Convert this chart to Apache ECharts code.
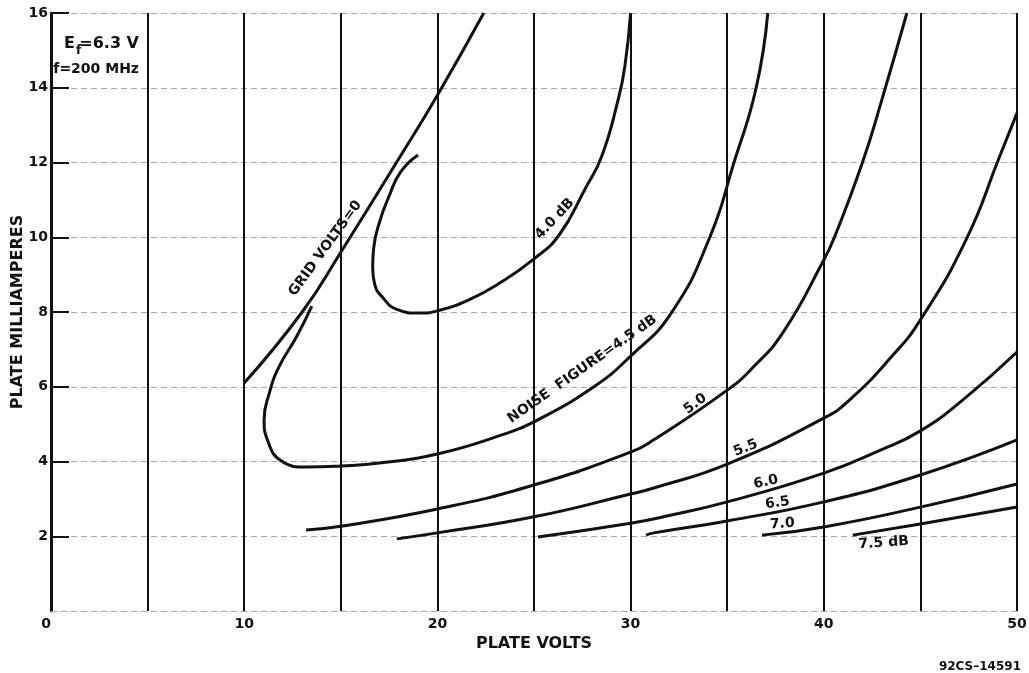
<!DOCTYPE html>
<html>
<head>
<meta charset="utf-8">
<title>Plate milliamperes vs plate volts</title>
<script src="https://cdn.jsdelivr.net/npm/echarts@6.0.0/dist/echarts.min.js"></script>
<style>
  html, body { margin: 0; padding: 0; background: #fff; }
  #chart { width: 1029px; height: 673px; }
</style>
</head>
<body>
<div id="chart"></div>
<script>
  // values: x = plate volts, y = plate milliamperes
  const gridZeroX = [10, 13, 15, 18, 20, 22.4]
  const gridZeroY = [6.1, 8.0, 9.6, 12.1, 13.8, 16]

  // 4.0 dB is a loop, so points follow the drawn path
  const nf40X = [19.0, 18.1, 17.5, 17.0, 16.7, 16.65, 16.75, 17.2, 17.9, 19.1, 20, 21.6, 23.3, 25, 26.3, 27.65, 28.5, 29.35, 29.7, 30]
  const nf40Y = [12.2, 11.75, 11.1, 10.4, 9.7, 9.2, 8.75, 8.37, 8.07, 7.97, 8.03, 8.32, 8.8, 9.42, 10.06, 11.3, 12.16, 13.67, 14.56, 16]

  const nf45X = [13.5, 12.7, 11.8, 11.3, 11.03, 11.2, 12.0, 13.2, 15, 17, 20, 23.5, 25, 28.1, 30, 32.1, 34.1, 35.35, 36.5, 37.1]
  const nf45Y = [8.16, 7.33, 6.53, 5.83, 5.11, 4.58, 3.99, 3.85, 3.88, 3.96, 4.2, 4.74, 5.06, 6.0, 6.82, 7.97, 10, 12, 14, 16]

  const nf50X = [13.2, 15, 20, 25, 30, 31.2, 35, 36.3, 37.9, 40, 40.55, 42, 43, 44.3]
  const nf50Y = [2.17, 2.27, 2.73, 3.37, 4.25, 4.58, 5.91, 6.5, 7.46, 9.39, 10, 12, 13.67, 16]

  const nf55X = [17.9, 20, 25, 30, 31.2, 35, 40, 41.34, 43.5, 45, 47.36, 49.1, 50]
  const nf55Y = [1.93, 2.09, 2.52, 3.13, 3.29, 3.93, 5.16, 5.65, 6.8, 7.79, 9.93, 12.16, 13.32]

  const nf60X = [25.2, 30, 31.7, 35, 40, 42.9, 45, 47.2, 50]
  const nf60Y = [1.98, 2.35, 2.52, 2.92, 3.69, 4.3, 4.82, 5.65, 6.93]

  const nf65X = [30.8, 31.2, 35, 40, 45, 50]
  const nf65Y = [2.03, 2.09, 2.41, 2.92, 3.64, 4.58]

  const nf70X = [36.8, 40, 45, 50]
  const nf70Y = [2.03, 2.25, 2.78, 3.4]

  const nf75X = [41.5, 45, 50]
  const nf75Y = [2.03, 2.33, 2.78]

  const curves = [
    { name: 'GRID VOLTS=0', x: gridZeroX, y: gridZeroY },
    { name: '4.0 dB', x: nf40X, y: nf40Y },
    { name: '4.5 dB', x: nf45X, y: nf45Y },
    { name: '5.0 dB', x: nf50X, y: nf50Y },
    { name: '5.5 dB', x: nf55X, y: nf55Y },
    { name: '6.0 dB', x: nf60X, y: nf60Y },
    { name: '6.5 dB', x: nf65X, y: nf65Y },
    { name: '7.0 dB', x: nf70X, y: nf70Y },
    { name: '7.5 dB', x: nf75X, y: nf75Y }
  ]

  // curve captions: centre in data units, tilt in degrees
  const curveLabels = [
    { text: 'GRID VOLTS=0', at: [14.2, 9.7], angle: 54 },
    { text: '4.0 dB', at: [26.07, 10.49], angle: 47 },
    { text: 'NOISE  FIGURE=4.5 dB', at: [27.5, 6.47], angle: 35 },
    { text: '5.0', at: [33.35, 5.54], angle: 36 },
    { text: '5.5', at: [35.96, 4.36], angle: 22 },
    { text: '6.0', at: [37.0, 3.45], angle: 12 },
    { text: '6.5', at: [37.6, 2.89], angle: 8 },
    { text: '7.0', at: [37.85, 2.33], angle: 4 },
    { text: '7.5 dB', at: [43.1, 1.82], angle: 4 }
  ]

  const ink = '#111'
  const font = '"DejaVu Sans", sans-serif'

  let chart = echarts.init(document.getElementById('chart'))

  let option = {
    animation: false,
    backgroundColor: '#fff',
    grid: {
      left: 51,
      right: 12,
      top: 13,
      bottom: 62,
      containLabel: false,
      outerBoundsMode: 'none'
    },
    xAxis: {
      type: 'value',
      min: 0,
      max: 50,
      interval: 5,
      name: 'PLATE VOLTS',
      nameLocation: 'middle',
      nameGap: 25,
      nameTextStyle: { color: ink, fontWeight: 'bold', fontSize: 16, fontFamily: font },
      axisLine: {
        show: true,
        lineStyle: { color: '#a8a8a8', width: 1, type: [6, 4] }
      },
      axisTick: { show: false },
      axisLabel: {
        color: ink,
        fontWeight: 'bold',
        fontSize: 14,
        fontFamily: font,
        margin: 6,
        alignMinLabel: 'right',
        formatter: v => (v % 10 === 0 ? String(v) : '')
      },
      splitLine: {
        show: true,
        lineStyle: { color: ink, width: 2, type: 'solid' }
      }
    },
    yAxis: {
      type: 'value',
      min: 0,
      max: 16,
      interval: 2,
      name: 'PLATE MILLIAMPERES',
      nameLocation: 'middle',
      nameGap: 25,
      nameMoveOverlap: false,
      nameTextStyle: { color: ink, fontWeight: 'bold', fontSize: 16, fontFamily: font },
      axisLine: {
        show: true,
        lineStyle: { color: ink, width: 3 }
      },
      axisTick: {
        show: true,
        inside: true,
        length: 18,
        lineStyle: { color: ink, width: 2 }
      },
      axisLabel: {
        showMinLabel: false,
        color: ink,
        fontWeight: 'bold',
        fontSize: 14,
        fontFamily: font,
        margin: 3
      },
      splitLine: {
        show: true,
        lineStyle: { color: '#a8a8a8', width: 1, type: [6, 4] }
      }
    },
    series: curves.map(c => ({
      name: c.name,
      type: 'line',
      data: c.x.map((v, i) => [v, c.y[i]]),
      showSymbol: false,
      smooth: 0.5,
      clip: true,
      lineStyle: { color: ink, width: 3 },
      z: 5
    }))
  }

  chart.setOption(option)

  // captions are placed after the axes exist, so they follow the scales
  let graphics = curveLabels.map(l => {
    let p = chart.convertToPixel({ gridIndex: 0 }, l.at)
    return {
      type: 'text',
      x: p[0],
      y: p[1],
      rotation: l.angle * Math.PI / 180,
      z: 20,
      style: {
        text: l.text,
        fill: ink,
        font: 'bold 14px ' + font,
        textAlign: 'center',
        textVerticalAlign: 'middle',
        align: 'center',
        verticalAlign: 'middle'
      }
    }
  })

  // operating conditions in the corner, with the subscript f
  const condStyle = (txt, size, align) => ({
    text: txt,
    fill: ink,
    font: 'bold ' + size + 'px ' + font,
    textAlign: align,
    align: align,
    textVerticalAlign: 'bottom',
    verticalAlign: 'bottom'
  })
  graphics.push(
    { type: 'text', x: 64, y: 52, z: 20, style: condStyle('E', 16, 'left') },
    { type: 'text', x: 76, y: 57, z: 20, style: condStyle('f', 12, 'left') },
    { type: 'text', x: 139, y: 52, z: 20, style: condStyle('=6.3 V', 16, 'right') },
    { type: 'text', x: 139, y: 76, z: 20, style: condStyle('f=200 MHz', 14, 'right') },
    { type: 'text', x: 1021, y: 673, z: 20, style: condStyle('92CS\u201314591', 12, 'right') }
  )

  chart.setOption({ graphic: graphics })
</script>
</body>
</html>
